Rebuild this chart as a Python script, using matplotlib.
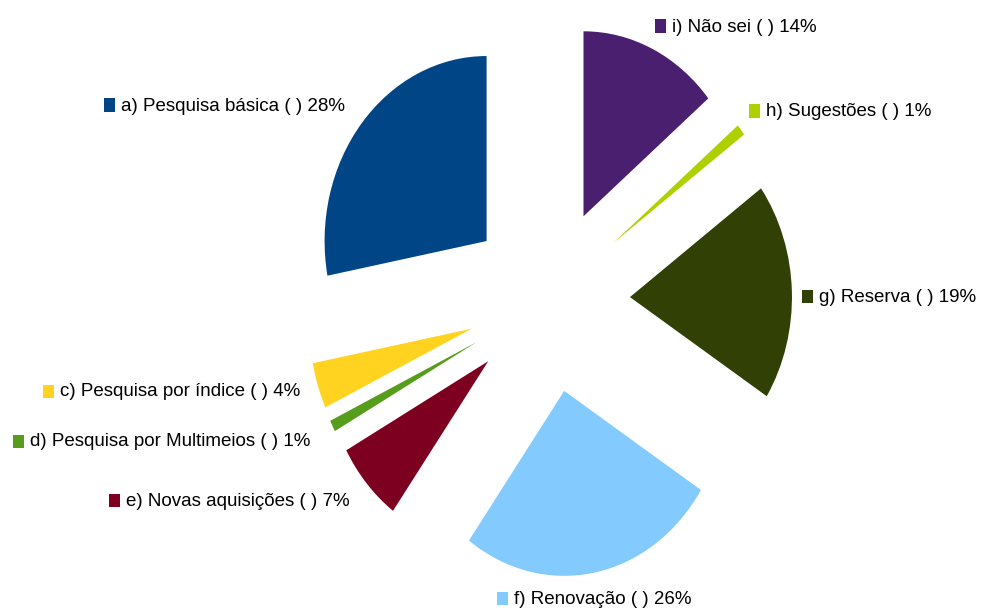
import matplotlib
matplotlib.use('Agg')
import matplotlib.pyplot as plt
from matplotlib.patches import Rectangle

plt.rcParams['font.family'] = ['Liberation Sans', 'DejaVu Sans']

# Survey answers (percent), counterclockwise from 12 o'clock
labels = ['a) Pesquisa básica ( ) 28%', 'b) ( ) 0%', 'c) Pesquisa por índice ( ) 4%',
          'd) Pesquisa por Multimeios ( ) 1%', 'e) Novas aquisições ( ) 7%',
          'f) Renovação ( ) 26%', 'g) Reserva ( ) 19%', 'h) Sugestões ( ) 1%',
          'i) Não sei ( ) 14%']
values = [28, 0, 4, 1, 7, 26, 19, 1, 14]
colors = ['#004586', '#ff420e', '#ffd320', '#579d1c', '#7e0021',
          '#83caff', '#314004', '#aecf00', '#4b1f6f']

# label anchor (figure pixels from top-left): square left x, centre y
label_pos = [(104, 105), None, (43, 391), (13, 441), (109, 500),
             (497, 598), (802, 296), (749, 111), (655, 26)]

W, H = 981, 612
fig = plt.figure(figsize=(W / 100, H / 100), dpi=100)
ax = fig.add_axes([0, 0, 1, 1])

ax.pie(values, colors=colors, startangle=90, counterclock=True,
       explode=[0.5] * len(values), radius=1.0,
       wedgeprops=dict(linewidth=0))

# the original pie is slightly squashed horizontally
cx, cy, sx, sy = 549, 300, 162, 185
ax.set_aspect('auto')
ax.set_xlim(-cx / sx, (W - cx) / sx)
ax.set_ylim(-(H - cy) / sy, cy / sy)
ax.axis('off')

sq_w, sq_h = 11, 13
for lab, col, pos in zip(labels, colors, label_pos):
    if pos is None:
        continue
    px, py = pos
    fig.patches.append(Rectangle((px / W, 1 - (py + sq_h / 2) / H),
                                 sq_w / W, sq_h / H, facecolor=col,
                                 edgecolor='none', transform=fig.transFigure))
    fig.text((px + 17) / W, 1 - (py + 1) / H, lab, fontsize=13.5,
             color='#000000', ha='left', va='center')

plt.savefig('out.png', dpi=100)
